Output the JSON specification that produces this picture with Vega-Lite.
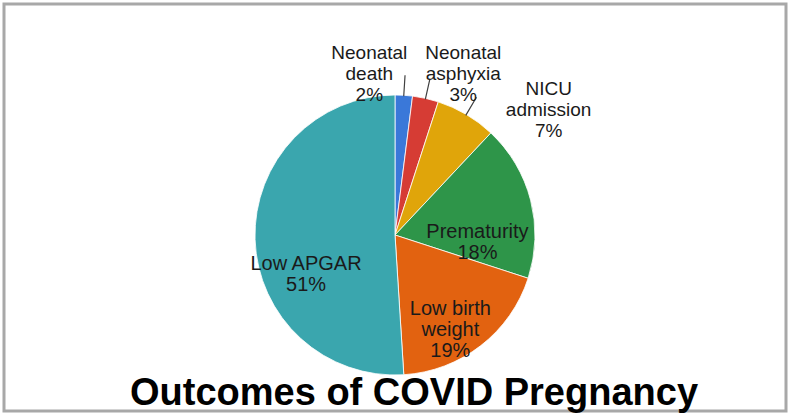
{
  "$schema": "https://vega.github.io/schema/vega-lite/v6.json",
  "width": 782,
  "height": 407,
  "autosize": {"type": "none"},
  "padding": {"left": 4, "top": 4, "right": 4, "bottom": 4},
  "background": "white",
  "config": {
    "view": {"stroke": null},
    "font": "Liberation Sans"
  },
  "title": {
    "text": "Outcomes of COVID Pregnancy",
    "orient": "bottom",
    "anchor": "middle",
    "baseline": "alphabetic",
    "offset": -8,
    "dx": 19,
    "font": "Liberation Sans",
    "fontSize": 38,
    "fontWeight": "bold",
    "color": "#000000"
  },
  "data": {
    "values": [
      {"k": 1, "name": "Neonatal death", "lines": "Neonatal|death", "value": 2},
      {"k": 2, "name": "Neonatal asphyxia", "lines": "Neonatal|asphyxia", "value": 3},
      {"k": 3, "name": "NICU admission", "lines": "NICU|admission", "value": 7},
      {"k": 4, "name": "Prematurity", "lines": "Prematurity", "value": 18},
      {"k": 5, "name": "Low birth weight", "lines": "Low birth|weight", "value": 19},
      {"k": 6, "name": "Low APGAR", "lines": "Low APGAR", "value": 51}
    ]
  },
  "transform": [
    {"calculate": "datum.lines + '|' + datum.value + '%'", "as": "label"}
  ],
  "layer": [
    {
      "data": {"values": [{"frame": 1}]},
      "mark": {"type": "rect", "fill": null, "fillOpacity": 0, "stroke": "#a8a8a8", "strokeWidth": 3},
      "encoding": {}
    },
    {
      "mark": {"type": "arc", "radius": 140, "y": {"expr": "height/2 + 27.5"}, "stroke": "white", "strokeWidth": 0.8},
      "encoding": {
        "theta": {"field": "value", "type": "quantitative", "stack": true},
        "order": {"field": "k", "type": "quantitative"},
        "color": {
          "field": "name",
          "type": "nominal",
          "legend": null,
          "scale": {
            "domain": ["Neonatal death", "Neonatal asphyxia", "NICU admission", "Prematurity", "Low birth weight", "Low APGAR"],
            "range": ["#3a78d9", "#d63c34", "#e0a50a", "#2e9549", "#e26210", "#3aa6ae"]
          }
        }
      }
    },
    {
      "mark": {"type": "arc", "radius": 160, "radius2": 139, "padAngle": 0.6, "y": {"expr": "height/2 + 27.5"}, "fill": null, "fillOpacity": 0, "stroke": "#404040", "strokeWidth": 1.2},
      "encoding": {
        "theta": {"field": "value", "type": "quantitative", "stack": true},
        "order": {"field": "k", "type": "quantitative"},
        "strokeOpacity": {"condition": {"test": "datum.value < 10", "value": 1}, "value": 0}
      }
    },
    {
      "mark": {"type": "text", "radius": 82, "dx": 3, "dy": 17, "y": {"expr": "height/2 + 27.5"}, "fontSize": 20, "lineHeight": 21, "lineBreak": "|", "color": "#1a1a1a", "align": "center", "baseline": "middle"},
      "encoding": {
        "theta": {"field": "value", "type": "quantitative", "stack": true},
        "order": {"field": "k", "type": "quantitative"},
        "text": {"condition": {"test": "datum.name === 'Prematurity'", "field": "label"}, "value": ""}
      }
    },
    {
      "mark": {"type": "text", "radius": 92, "dx": -1, "dy": 1, "y": {"expr": "height/2 + 27.5"}, "fontSize": 20, "lineHeight": 21, "lineBreak": "|", "color": "#1a1a1a", "align": "center", "baseline": "middle"},
      "encoding": {
        "theta": {"field": "value", "type": "quantitative", "stack": true},
        "order": {"field": "k", "type": "quantitative"},
        "text": {"condition": {"test": "datum.name === 'Low birth weight'", "field": "label"}, "value": ""}
      }
    },
    {
      "mark": {"type": "text", "radius": 92, "dx": 3, "dy": 26, "y": {"expr": "height/2 + 27.5"}, "fontSize": 20, "lineHeight": 21, "lineBreak": "|", "color": "#1a1a1a", "align": "center", "baseline": "middle"},
      "encoding": {
        "theta": {"field": "value", "type": "quantitative", "stack": true},
        "order": {"field": "k", "type": "quantitative"},
        "text": {"condition": {"test": "datum.name === 'Low APGAR'", "field": "label"}, "value": ""}
      }
    },
    {
      "mark": {"type": "text", "radius": 180, "dx": -37, "dy": -2, "y": {"expr": "height/2 + 27.5"}, "fontSize": 19, "lineHeight": 21, "lineBreak": "|", "color": "#1a1a1a", "align": "center", "baseline": "middle"},
      "encoding": {
        "theta": {"field": "value", "type": "quantitative", "stack": true},
        "order": {"field": "k", "type": "quantitative"},
        "text": {"condition": {"test": "datum.name === 'Neonatal death'", "field": "label"}, "value": ""}
      }
    },
    {
      "mark": {"type": "text", "radius": 180, "dx": 29, "dy": -6, "y": {"expr": "height/2 + 27.5"}, "fontSize": 19, "lineHeight": 21, "lineBreak": "|", "color": "#1a1a1a", "align": "center", "baseline": "middle"},
      "encoding": {
        "theta": {"field": "value", "type": "quantitative", "stack": true},
        "order": {"field": "k", "type": "quantitative"},
        "text": {"condition": {"test": "datum.name === 'Neonatal asphyxia'", "field": "label"}, "value": ""}
      }
    },
    {
      "mark": {"type": "text", "radius": 180, "dx": 62, "dy": 9, "y": {"expr": "height/2 + 27.5"}, "fontSize": 19, "lineHeight": 21, "lineBreak": "|", "color": "#1a1a1a", "align": "center", "baseline": "middle"},
      "encoding": {
        "theta": {"field": "value", "type": "quantitative", "stack": true},
        "order": {"field": "k", "type": "quantitative"},
        "text": {"condition": {"test": "datum.name === 'NICU admission'", "field": "label"}, "value": ""}
      }
    }
  ]
}
